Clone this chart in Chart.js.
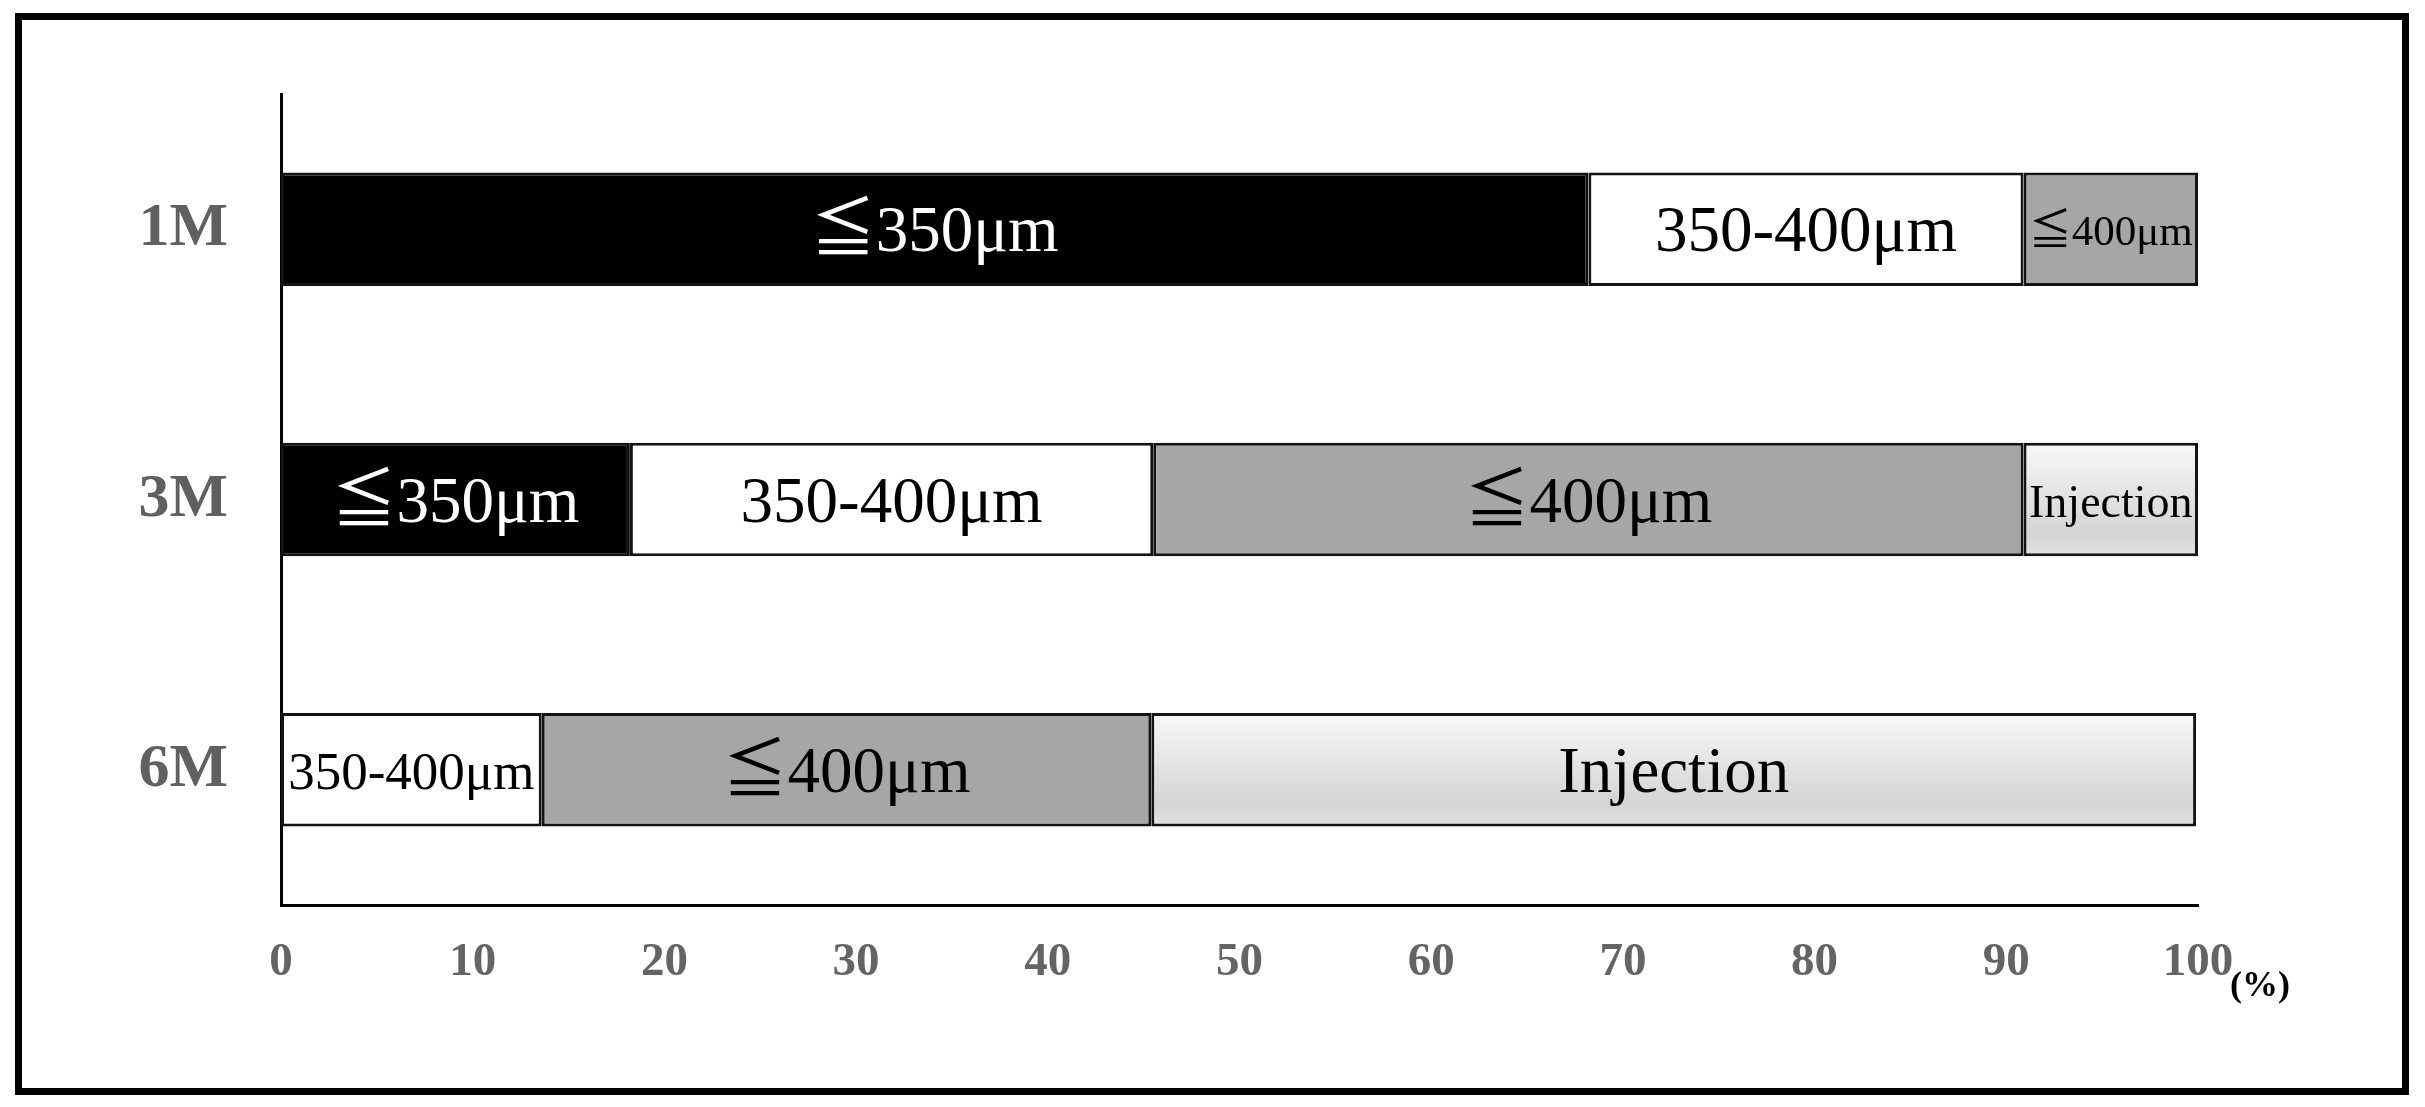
<!DOCTYPE html>
<html>
<head>
<meta charset="utf-8">
<script src="https://cdn.jsdelivr.net/npm/chart.js@4"></script>
<style>
	html, body { margin: 0; padding: 0; background: #fff; }
	#wrap { width: 2425px; height: 1107px; }
</style>
</head>
<body>
<div id="wrap"><canvas id="chrt"></canvas></div>
<script>
// categories and series (percent of cases)
var categories = ['1M', '3M', '6M'];
var seriesNames = ['≦350μm', '350-400μm', '≦400μm', 'Injection'];
var under350 = [68.2, 18.2, 0];
var from350to400 = [22.7, 27.3, 13.6];
var over400 = [9.1, 45.4, 31.8];
var injection = [0, 9.1, 54.5];

var serif = "'Liberation Serif', 'Noto Sans CJK JP', serif";
var barPct = 0.42;

function injectionFill(c) {
	var chart = c.chart;
	var area = chart.chartArea;
	if (!area || !chart.scales.y) return '#e4e4e4';
	var band = (area.bottom - area.top) / categories.length;
	var py = chart.scales.y.getPixelForValue(c.dataIndex);
	var h = band * barPct;
	var g = chart.ctx.createLinearGradient(0, py - h / 2, 0, py + h / 2);
	g.addColorStop(0, '#f8f8f8');
	g.addColorStop(0.8, '#d4d4d4');
	g.addColorStop(1, '#e2e2e2');
	return g;
}

function seg(name, values, fill) {
	return {
		label: name,
		data: values,
		backgroundColor: fill,
		borderColor: '#141414',
		borderWidth: 3,
		borderSkipped: false,
		barPercentage: barPct,
		categoryPercentage: 1
	};
}

// frame round the whole picture
var framePlugin = {
	id: 'frame',
	beforeDraw: function (chart) {
		var ctx = chart.ctx;
		ctx.save();
		ctx.fillStyle = '#fff';
		ctx.fillRect(0, 0, chart.width, chart.height);
		ctx.strokeStyle = '#000';
		ctx.lineWidth = 7;
		ctx.strokeRect(18.5, 16.5, 2387, 1075);
		ctx.restore();
	},
	afterDraw: function (chart) {
		var ctx = chart.ctx;
		var xs = chart.scales.x;
		ctx.save();
		ctx.fillStyle = '#000';
		ctx.font = 'bold 36px ' + serif;
		ctx.textAlign = 'left';
		ctx.textBaseline = 'middle';
		ctx.fillText('(%)', xs.getPixelForValue(100) + 32, xs.top + 82);
		ctx.restore();
	}
};

// names written inside each segment
var segLabels = {
	id: 'segLabels',
	afterDatasetsDraw: function (chart) {
		var ctx = chart.ctx;
		ctx.save();
		ctx.textAlign = 'center';
		ctx.textBaseline = 'middle';
		chart.data.datasets.forEach(function (ds, i) {
			var meta = chart.getDatasetMeta(i);
			meta.data.forEach(function (el, j) {
				if (!ds.data[j]) return;
				var w = Math.abs(el.x - el.base);
				var size = 65;
				ctx.font = size + 'px ' + serif;
				var tw = ctx.measureText(ds.label).width;
				if (tw > w * 0.95) {
					size = Math.floor(size * w * 0.95 / tw);
					ctx.font = size + 'px ' + serif;
				}
				ctx.fillStyle = i === 0 ? '#fff' : '#000';
				ctx.fillText(ds.label, (el.x + el.base) / 2, el.y + 5);
			});
		});
		ctx.restore();
	}
};

new Chart(document.getElementById('chrt'), {
	type: 'bar',
	data: {
		labels: categories,
		datasets: [
			seg(seriesNames[0], under350, '#000000'),
			seg(seriesNames[1], from350to400, '#ffffff'),
			seg(seriesNames[2], over400, '#a6a6a6'),
			seg(seriesNames[3], injection, injectionFill)
		]
	},
	options: {
		indexAxis: 'y',
		responsive: true,
		maintainAspectRatio: false,
		animation: false,
		layout: { padding: { left: 0, right: 227, top: 94, bottom: 0 } },
		plugins: {
			legend: { display: false },
			tooltip: { enabled: false }
		},
		scales: {
			x: {
				stacked: true,
				min: 0,
				max: 100,
				grid: { display: false, drawTicks: false },
				border: { display: true, color: '#000', width: 3 },
				ticks: {
					stepSize: 10,
					padding: 30,
					color: '#646464',
					font: { family: serif, size: 47, weight: 'bold' }
				},
				afterFit: function (scale) { scale.height = 202; }
			},
			y: {
				stacked: true,
				grid: { display: false, drawTicks: false },
				border: { display: true, color: '#000', width: 3 },
				ticks: {
					padding: 53,
					color: '#606060',
					font: { family: serif, size: 62, weight: 'bold' }
				},
				afterFit: function (scale) { scale.width = 281; }
			}
		}
	},
	plugins: [framePlugin, segLabels]
});
</script>
</body>
</html>
